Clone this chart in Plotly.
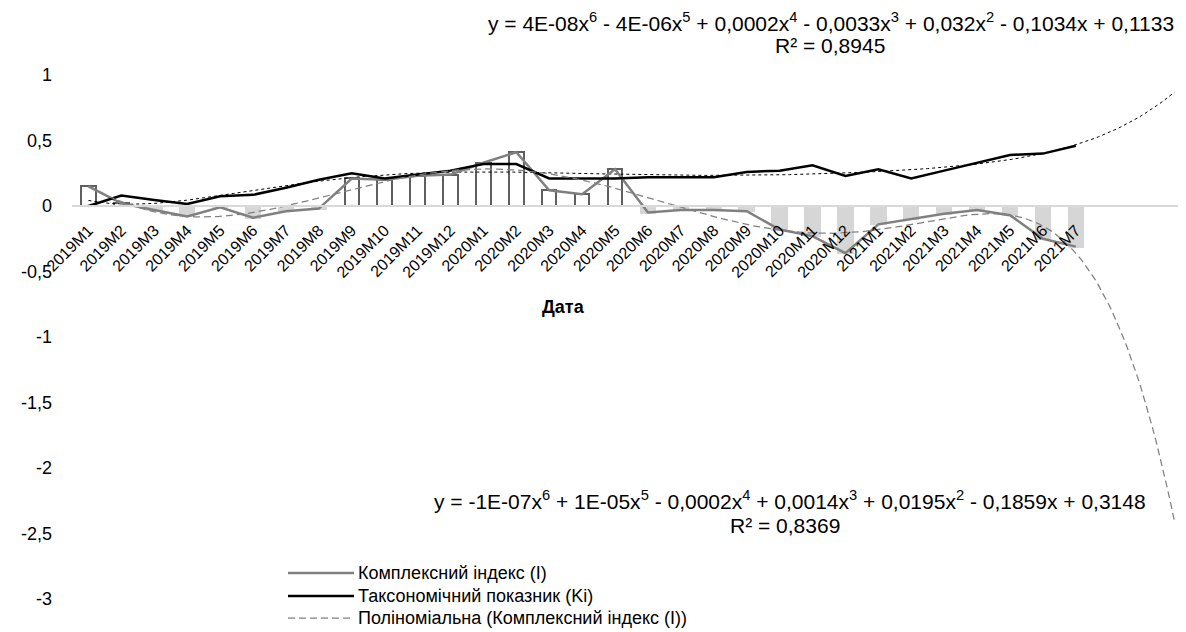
import numpy as np
import plotly.graph_objects as go

# ---------------- data ----------------
categories = ["2019M1", "2019M2", "2019M3", "2019M4", "2019M5", "2019M6", "2019M7", "2019M8",
              "2019M9", "2019M10", "2019M11", "2019M12", "2020M1", "2020M2", "2020M3", "2020M4",
              "2020M5", "2020M6", "2020M7", "2020M8", "2020M9", "2020M10", "2020M11", "2020M12",
              "2021M1", "2021M2", "2021M3", "2021M4", "2021M5", "2021M6", "2021M7"]

complex_index = [0.15, 0.02, -0.03, -0.08, -0.01, -0.09, -0.04, -0.02, 0.21, 0.20, 0.23, 0.24,
                 0.33, 0.41, 0.12, 0.09, 0.28, -0.05, -0.03, -0.03, -0.04, -0.18, -0.23, -0.36,
                 -0.14, -0.10, -0.06, -0.03, -0.07, -0.25, -0.31]

taxonomic = [0.00, 0.08, 0.045, 0.015, 0.075, 0.085, 0.14, 0.20, 0.25, 0.21, 0.24, 0.27,
             0.32, 0.32, 0.21, 0.21, 0.21, 0.22, 0.22, 0.22, 0.26, 0.27, 0.31, 0.23,
             0.28, 0.21, 0.27, 0.33, 0.39, 0.40, 0.46]

y_ticks = [-3, -2.5, -2, -1.5, -1, -0.5, 0, 0.5, 1]
y_tick_text = ["-3", "-2,5", "-2", "-1,5", "-1", "-0,5", "0", "0,5", "1"]

legend_names = ["Комплексний індекс (I)", "Таксономічний показник (Ki)",
                "Поліноміальна (Комплексний індекс (I))"]

eq_top = ("y = 4E-08x<sup>6</sup> - 4E-06x<sup>5</sup> + 0,0002x<sup>4</sup> - 0,0033x<sup>3</sup>"
          " + 0,032x<sup>2</sup> - 0,1034x + 0,1133")
r2_top = "R² = 0,8945"
eq_bot = ("y = -1E-07x<sup>6</sup> + 1E-05x<sup>5</sup> - 0,0002x<sup>4</sup> + 0,0014x<sup>3</sup>"
          " + 0,0195x<sup>2</sup> - 0,1859x + 0,3148")
r2_bot = "R² = 0,8369"
x_title = "Дата"

FORECAST = 3  # trendline forecast forward (periods)

# ---------------- layout geometry (pixels) ----------------
W, H = 1186, 632
ML, MR, MT, MB = 64, 3, 67, 41
PW, PH = W - ML - MR, H - MT - MB


def px(x):
    return (x - ML) / PW


def py(y):
    return (H - MB - y) / PH


n = len(categories)
xs = np.arange(1, n + 1)
I = np.array(complex_index)
K = np.array(taxonomic)

# polynomial (order 6) trendlines fitted on the data, extended forward
xf = np.linspace(1, n + FORECAST, 300)
fit_I = np.polyval(np.polyfit(xs, I, 6), xf)
fit_K = np.polyval(np.polyfit(xs, K, 6), xf)

FONT = "Liberation Sans, Arial, sans-serif"
GRAY = "#808080"

fig = go.Figure()

bar_fill = ["#ffffff" if v >= 0 else "#d6d6d6" for v in I]
bar_line = ["#5f5f5f" if v >= 0 else "#d6d6d6" for v in I]
fig.add_trace(go.Bar(x=xs, y=I, width=0.44, showlegend=False,
                     marker=dict(color=bar_fill, line=dict(color=bar_line, width=2))))

fig.add_trace(go.Scatter(x=xf, y=fit_K, mode="lines", showlegend=False,
                         line=dict(color="#000000", width=1, dash="dot")))
fig.add_trace(go.Scatter(x=xs, y=I, mode="lines", showlegend=False,
                         line=dict(color=GRAY, width=2.5)))
fig.add_trace(go.Scatter(x=xs, y=K, mode="lines", showlegend=False,
                         line=dict(color="#000000", width=2.5)))
fig.add_trace(go.Scatter(x=xf, y=fit_I, mode="lines", showlegend=False,
                         line=dict(color=GRAY, width=1.25, dash="7px,4px")))

shapes = []
annotations = []

# manual legend
legend_rows = [565, 588, 610]
legend_styles = [dict(color=GRAY, width=2.5), dict(color="#000000", width=2.5),
                 dict(color=GRAY, width=1.25, dash="7px,4px")]
for name, yy, st in zip(legend_names, legend_rows, legend_styles):
    shapes.append(dict(type="line", xref="paper", yref="paper",
                       x0=px(280), x1=px(346), y0=py(yy), y1=py(yy), line=st))
    annotations.append(dict(text=name, xref="paper", yref="paper", x=px(348), y=py(yy),
                            xanchor="left", yanchor="middle", showarrow=False,
                            font=dict(size=18, color="#000000", family=FONT)))


def txt(t, x, y, anchor="center", size=21, bold=False):
    if bold:
        t = "<b>" + t + "</b>"
    annotations.append(dict(text=t, xref="paper", yref="paper", x=px(x), y=py(y),
                            xanchor=anchor, yanchor="middle", showarrow=False,
                            font=dict(size=size, color="#000000", family=FONT)))


# equations
txt(eq_top, 478, 14, anchor="left")
txt(r2_top, 822, 37)
txt(eq_bot, 424, 492, anchor="left")
txt(r2_bot, 777, 517)

# axis title
txt(x_title, 555, 299, size=18, bold=True)

fig.update_layout(
    width=W, height=H,
    margin=dict(l=ML, r=MR, t=MT, b=MB, pad=0),
    paper_bgcolor="#ffffff", plot_bgcolor="#ffffff",
    font=dict(family=FONT, size=18, color="#000000"),
    bargap=0, showlegend=False,
    shapes=shapes, annotations=annotations,
    xaxis=dict(range=[0.5, n + FORECAST + 0.5], tickmode="array", tickvals=list(xs),
               ticktext=categories, tickangle=-45, anchor="free", position=0.75,
               showline=True, linecolor="#d9d9d9", linewidth=1.5, ticks="",
               ticklabelstandoff=8,
               showgrid=False, zeroline=False, tickfont=dict(size=16, family=FONT)),
    yaxis=dict(range=[-3, 1], tickmode="array", tickvals=y_ticks, ticktext=y_tick_text,
               showline=False, showgrid=False, zeroline=False, ticks="",
               ticklabelstandoff=19, tickfont=dict(size=18, family=FONT)),
)

fig.write_html("out.html")
